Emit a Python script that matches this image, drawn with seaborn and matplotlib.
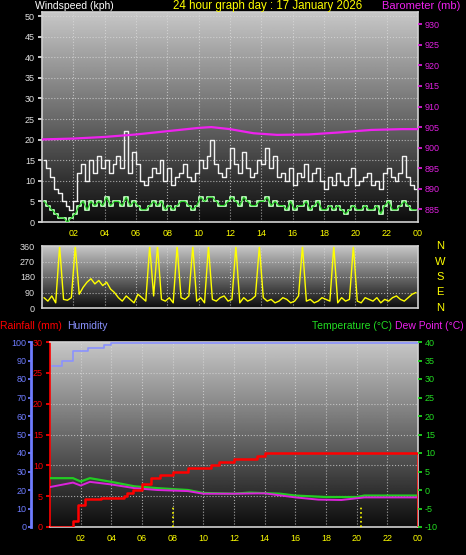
import numpy as np
import matplotlib
matplotlib.use("Agg")
import matplotlib.pyplot as plt
import seaborn as sns

sns.set_theme(style="dark")
plt.rcParams['font.family'] = ['Liberation Sans', 'DejaVu Sans']
plt.rcParams['axes.unicode_minus'] = False

# ---- data ----
t96 = np.arange(96) * 0.25 + 0.125
gust = [15,13,11,8,7,5,4,3,5,12,14,10, 15,12,16,13,15,12,14,16,13,22,12,17,
        14,10,9,11,13,12,15,10,13,9,11,12, 14,11,10,12,15,13,16,20,14,12,11,13,
        18,14,12,17,13,11,12,15,14,18,13,16, 11,12,10,13,9,12,11,14,10,12,13,10,
        8,11,9,12,10,9,11,13,9,10,11,12, 9,10,8,12,13,11,10,12,16,11,9,8]
wind = [5,4,3,2,1,1,0,1,2,4,5,3, 5,4,5,4,6,4,5,5,4,6,4,5,
        4,3,3,4,5,4,5,3,4,3,4,5, 5,4,3,4,6,5,6,6,5,4,4,5,
        6,5,4,6,5,4,4,5,5,6,4,5, 4,4,3,5,3,4,4,5,3,4,5,3,
        3,4,3,4,3,2,3,4,3,3,4,3, 3,4,2,4,5,3,3,4,5,4,3,3]
wdir = [60,40,70,30,360,50,45,60,360,80,120,150, 170,140,160,130,150,110,90,60,40,70,50,30,
        80,60,40,360,70,360,50,40,60,30,360,60, 50,70,360,40,60,30,360,50,40,60,70,40,
        50,360,30,60,40,50,70,360,60,40,50,30, 40,60,50,30,40,70,360,40,50,30,40,60,
        50,40,360,30,60,40,50,360,40,30,60,50, 40,60,30,50,40,60,70,50,40,60,80,90]
baro_t = [0, 2, 4, 6, 8, 10, 10.8, 12, 13.5, 15, 17, 19, 21, 23, 24]
baro = [902.0, 902.2, 902.6, 903.2, 904.0, 904.8, 905.0, 904.5, 903.5, 903.1, 903.2, 903.7, 904.3, 904.5, 904.5]
rain_t = [0, 1.2, 1.5, 1.8, 2.3, 3.3, 4.8, 5.0, 5.4, 6.0, 6.6, 7.2, 8.0, 9.0, 10.5, 11.0, 12.0, 13.5, 14.0, 23.9, 24.0]
rain = [0, 0, 1, 3.5, 4.5, 4.7, 5, 5.5, 6, 7, 8, 8.5, 9, 9.5, 10, 10.5, 11, 11.5, 12, 12, 0]
hum_t = [0.1, 0.8, 1.5, 2.5, 3.5, 4.0, 24]
hum = [87, 90, 95, 97, 98.5, 99.5, 99.5]
temp_t = [0, 1.5, 2.0, 2.6, 4.0, 5.5, 7.0, 9.0, 10.0, 12.0, 13.0, 15.0, 16.0, 18.0, 20.0, 20.5, 24]
temp = [3.2, 3.2, 2.3, 3.2, 2.2, 1.0, 0.5, 0.0, -0.8, -1.0, -0.7, -1.0, -1.5, -1.9, -1.9, -1.5, -1.5]
dew_t = [0, 1.5, 2.0, 2.6, 4.0, 5.5, 7.0, 9.0, 10.0, 12.0, 14.0, 16.0, 17.5, 19.0, 20.5, 24]
dew = [0.8, 2.0, 1.2, 2.2, 1.5, 0.5, 0.0, -0.3, -1.0, -1.0, -0.9, -2.0, -2.6, -2.7, -2.0, -2.0]
sun_marks = [8.0, 20.3]
hour_ticks = list(range(2, 25, 2))
hour_labels = ["%02d" % (h % 24) for h in hour_ticks]

W, H = 466, 555
fig = plt.figure(figsize=(W/100, H/100), dpi=100, facecolor='black')

def box(x0, y0, x1, y1):
    return [x0/W, 1 - y1/H, (x1-x0)/W, (y1-y0)/H]

grad = np.linspace(0.78, 0.05, 256).reshape(-1, 1)

def style(ax, xlim, ylim):
    ax.set_facecolor('black')
    ax.imshow(grad, extent=[xlim[0], xlim[1], ylim[0], ylim[1]], aspect='auto',
              cmap='gray', vmin=0, vmax=1, zorder=0)
    ax.set_xlim(*xlim); ax.set_ylim(*ylim)
    ax.grid(True, color='#dddddd', linestyle=':', linewidth=0.8, alpha=0.7)
    for s in ax.spines.values():
        s.set_color('#d0d0d0'); s.set_linewidth(1.2)
    ax.set_xticks(hour_ticks)
    ax.set_xticklabels(hour_labels)
    ax.tick_params(axis='x', colors='#d0d0d0', labelcolor='yellow', labelsize=6.5,
                   length=3, direction='out', pad=2)
    ax.tick_params(axis='y', labelsize=6.5, length=3, pad=2)

FS = 7.5

# ---- panel 1: wind + barometer ----
ax1 = fig.add_axes(box(42, 12, 418, 222))
style(ax1, (0, 24), (0, 51))
ax1.set_yticks(range(0, 51, 5))
ax1.tick_params(axis='y', labelcolor='#e0e0e0', colors='#e0e0e0')
sns.lineplot(x=t96, y=gust, ax=ax1, color='#f2f2f2', lw=1.0, drawstyle='steps-mid', zorder=3)
sns.lineplot(x=t96, y=wind, ax=ax1, color='#b8f0b8', lw=1.4, drawstyle='steps-mid', zorder=4)
sns.lineplot(x=t96, y=wind, ax=ax1, color='#22cc22', lw=0.8, zorder=5)
ax1b = ax1.twinx()
ax1b.set_ylim(881.9, 933.0)
ax1b.set_yticks(range(885, 931, 5))
ax1b.tick_params(axis='y', colors='#e020e0', labelcolor='#e020e0', labelsize=6.5, length=3, pad=2)
for s in ax1b.spines.values():
    s.set_visible(False)
sns.lineplot(x=baro_t, y=baro, ax=ax1b, color='#ee22ee', lw=1.6)
ax1b.set_xlim(0, 24)
ax1.set_xlabel(''); ax1.set_ylabel(''); ax1b.set_ylabel('')
fig.text(35/W, 1-6/H, "Windspeed (kph)", color='white', fontsize=FS, va='center')
fig.text(268/W, 1-6/H, "24 hour graph day : 17 January 2026", color='yellow', fontsize=8.3, va='center', ha='center')
fig.text(460/W, 1-6/H, "Barometer (mb)", color='#ee22ee', fontsize=8, va='center', ha='right')

# ---- panel 2: wind direction ----
ax2 = fig.add_axes(box(42, 246, 418, 308))
style(ax2, (0, 24), (0, 360))
ax2.set_yticks(range(0, 361, 90))
ax2.tick_params(axis='y', labelcolor='#e0e0e0', colors='#e0e0e0')
ax2.tick_params(axis='x', labelbottom=False)
sns.lineplot(x=t96, y=wdir, ax=ax2, color='yellow', lw=1.0)
ax2.set_xlabel(''); ax2.set_ylabel('')
for i, lab in enumerate(["N", "W", "S", "E", "N"]):
    fig.text(440/W, 1-(246 + i*15.5)/H, lab, color='yellow', fontsize=8, ha='center', va='center')

# ---- panel 3: rain, humidity, temperature ----
ax3 = fig.add_axes(box(50, 342, 418, 527))
style(ax3, (0, 24), (0, 30))
ax3.set_yticks(range(0, 31, 5))
ax3.tick_params(axis='y', labelcolor='red', colors='red')
ax3.spines['left'].set_color('red')
axh = ax3.twinx()
axh.set_ylim(0, 100)
axh.yaxis.set_ticks_position('left'); axh.yaxis.set_label_position('left')
axh.spines['left'].set_position(('outward', 14))
axh.spines['left'].set_color('#6f7cff'); axh.spines['left'].set_linewidth(2)
for k in ['right', 'top', 'bottom']:
    axh.spines[k].set_visible(False)
axh.set_yticks(range(0, 101, 10))
axh.tick_params(axis='y', colors='#6f7cff', labelcolor='#6f7cff', labelsize=6.5, length=2, pad=1)
sns.lineplot(x=hum_t, y=hum, ax=axh, color='#8a92ff', lw=1.2, drawstyle='steps-post')
axt = ax3.twinx()
axt.set_ylim(-10, 40)
axt.set_yticks(range(-10, 41, 5))
axt.tick_params(axis='y', colors='#22dd22', labelcolor='#22dd22', labelsize=6.5, length=3, pad=2)
for s in axt.spines.values():
    s.set_visible(False)
sns.lineplot(x=temp_t, y=temp, ax=axt, color='#22cc22', lw=1.6)
sns.lineplot(x=dew_t, y=dew, ax=axt, color='#dd22dd', lw=1.4)
for s_t in sun_marks:
    axt.plot([s_t, s_t], [-10, -4.5], color='yellow', ls=':', lw=1.2)
axr = ax3.twinx(); axr.set_ylim(0, 30); axr.axis('off')
sns.lineplot(x=rain_t, y=rain, ax=axr, color='red', lw=1.8, drawstyle='steps-post')
for a in (ax3, axh, axt, axr):
    a.set_xlim(0, 24); a.set_xlabel(''); a.set_ylabel('')
fig.text(0/W, 1-326/H, "Rainfall (mm)", color='red', fontsize=FS, va='center')
fig.text(67/W, 1-326/H, "Humidity", color='#8a92ff', fontsize=FS, va='center')
fig.text(392/W, 1-326/H, "Temperature (°C)", color='#22dd22', fontsize=FS, va='center', ha='right')
fig.text(464/W, 1-326/H, "Dew Point (°C)", color='#ee22ee', fontsize=FS, va='center', ha='right')

fig.savefig("out.png", dpi=100, facecolor='black')
